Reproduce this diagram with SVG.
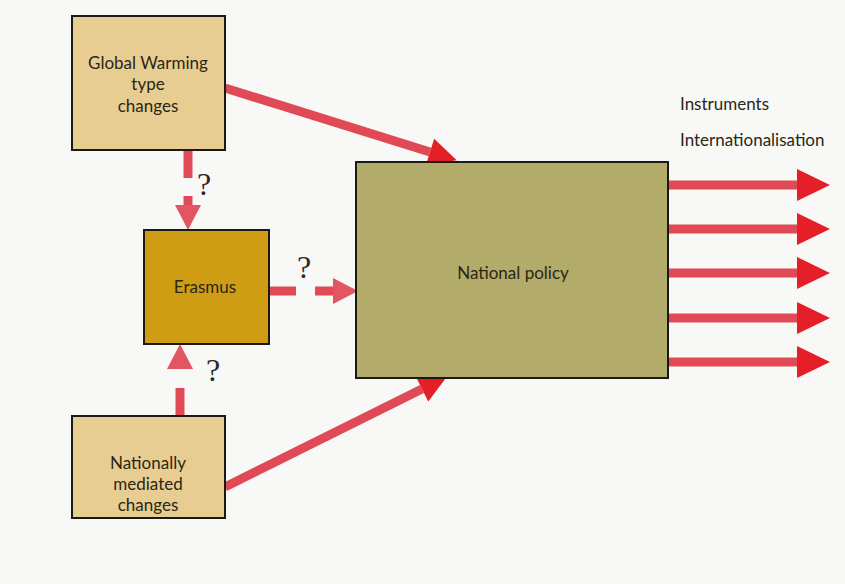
<svg xmlns="http://www.w3.org/2000/svg" width="845" height="584" viewBox="0 0 845 584">
<style>
.bg{fill:#f8f9f7}
.box{stroke:#1a1a14;stroke-width:2}
.tan{fill:#e8cd93}
.gold{fill:#cf9d14}
.olive{fill:#b2ab6a}
.lbl{font-family:Lato,"Open Sans",sans-serif;font-size:17px;fill:#2a2614;text-anchor:middle}
.side{font-family:Lato,"Open Sans",sans-serif;font-size:17px;fill:#2a2614}
.q{font-family:"Liberation Serif",serif;font-size:32px;fill:#2a2a2a}
.ln{stroke:#e04a56;stroke-width:9;fill:none}
.dash{stroke-dasharray:28 18}
</style>
<defs>
<marker id="big" markerUnits="userSpaceOnUse" markerWidth="30" markerHeight="30" refX="0" refY="14" orient="auto" overflow="visible">
<path d="M0,0 L28,14 L0,28 z" fill="#e41f28"/>
</marker>
<marker id="out" markerUnits="userSpaceOnUse" markerWidth="34" markerHeight="34" refX="0" refY="16" orient="auto" overflow="visible">
<path d="M0,0 L33,16 L0,32 z" fill="#e41f28"/>
</marker>
<marker id="small" markerUnits="userSpaceOnUse" markerWidth="28" markerHeight="28" refX="0" refY="13" orient="auto" overflow="visible">
<path d="M0,0 L25,13 L0,26 z" fill="#e35560"/>
</marker>
</defs>
<rect class="bg" x="0" y="0" width="845" height="584"/>
<g id="connectors">
<line class="ln" x1="225" y1="88" x2="430" y2="152" marker-end="url(#big)"/>
<line class="ln" x1="225" y1="487" x2="422" y2="389" marker-end="url(#big)"/>
<line class="ln dash" x1="188" y1="150" x2="188" y2="205" marker-end="url(#small)"/>
<line class="ln" style="stroke-dasharray:27 19" x1="269" y1="291" x2="333" y2="291" marker-end="url(#small)"/>
<line class="ln" style="stroke-dasharray:28 19" x1="180" y1="416" x2="180" y2="369" marker-end="url(#small)"/>
<line class="ln" x1="668" y1="185" x2="797" y2="185" marker-end="url(#out)"/>
<line class="ln" x1="668" y1="229" x2="797" y2="229" marker-end="url(#out)"/>
<line class="ln" x1="668" y1="273" x2="797" y2="273" marker-end="url(#out)"/>
<line class="ln" x1="668" y1="318" x2="797" y2="318" marker-end="url(#out)"/>
<line class="ln" x1="668" y1="362" x2="797" y2="362" marker-end="url(#out)"/>
<text class="q" x="197" y="195">?</text>
<text class="q" x="297" y="278">?</text>
<text class="q" x="206" y="381">?</text>
</g>
<g id="global-warming">
<rect class="box tan" x="72" y="16" width="153" height="134"/>
<text class="lbl" x="148" y="69">Global Warming</text>
<text class="lbl" x="148" y="90">type</text>
<text class="lbl" x="148" y="112">changes</text>
</g>
<g id="erasmus">
<rect class="box gold" x="144" y="230" width="125" height="114"/>
<text class="lbl" x="205" y="293">Erasmus</text>
</g>
<g id="nationally-mediated">
<rect class="box tan" x="72" y="416" width="153" height="102"/>
<text class="lbl" x="148" y="469">Nationally</text>
<text class="lbl" x="148" y="490">mediated</text>
<text class="lbl" x="148" y="511">changes</text>
</g>
<g id="national-policy">
<rect class="box olive" x="356" y="162" width="312" height="216"/>
<text class="lbl" x="513" y="279">National policy</text>
</g>
<g id="outputs">
<text class="side" x="680" y="110">Instruments</text>
<text class="side" x="680" y="146">Internationalisation</text>
</g>
</svg>
